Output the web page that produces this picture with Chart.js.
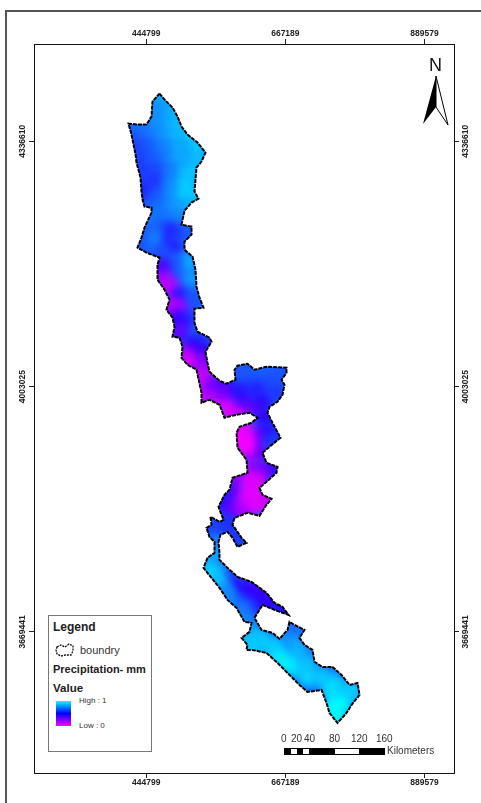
<!DOCTYPE html>
<html><head><meta charset="utf-8"><title>Precipitation map</title>
<script src="https://cdn.jsdelivr.net/npm/chart.js@4"></script>
<style>
html,body{margin:0;padding:0;background:#fff;overflow:hidden;width:481px;height:803px}
#wrap{position:relative;width:481px;height:803px;font-family:"Liberation Sans",Arial,sans-serif;color:#222}
canvas{position:absolute;left:0;top:0}
.abs{position:absolute;white-space:nowrap;line-height:1}
#legend{position:absolute;left:48px;top:615px;width:104px;height:137px;box-sizing:border-box;border:1px solid #777;background:#fff}
</style></head><body><div id="wrap">
<canvas id="c" width="481" height="803"></canvas>
<div class="abs" style="left:5px;top:10px;width:476px;height:793px;border-left:2px solid #555;border-top:2px solid #555;box-sizing:border-box"></div>
<div id="legend"></div>
<div class="abs" style="left:53px;top:621px;font-size:12px;font-weight:bold">Legend</div>
<svg class="abs" style="left:54px;top:642px" width="22" height="16"><path d="M3 5 L7 3 L11 5 L15 2 L19 4 L19 9 L17 13 L11 13 L7 14 L3 12 L2 8 Z" fill="none" stroke="#111" stroke-width="1.3" stroke-dasharray="2 1"/></svg>
<div class="abs" style="left:80px;top:645px;font-size:11px;color:#333">boundry</div>
<div class="abs" style="left:53px;top:664px;font-size:11px;font-weight:bold">Precipitation- mm</div>
<div class="abs" style="left:53px;top:683px;font-size:11.5px;font-weight:bold">Value</div>
<div class="abs" style="left:56px;top:701px;width:15px;height:25px;background:linear-gradient(#00ffff,#0000ff 50%,#ff00ff)"></div>
<div class="abs" style="left:79px;top:697px;font-size:8px;color:#333">High : 1</div>
<div class="abs" style="left:79px;top:722px;font-size:8px;color:#333">Low : 0</div>
<svg class="abs" style="left:284px;top:748px" width="102" height="8"><rect width="101" height="7" fill="#000"/><rect x="7" y="1" width="6" height="5" fill="#fff"/><rect x="19" y="1" width="6" height="5" fill="#fff"/><rect x="51" y="1" width="24" height="5" fill="#fff"/></svg>
<div class="abs" style="left:281px;top:734px;font-size:10px;color:#333">0</div>
<div class="abs" style="left:291px;top:734px;font-size:10px;color:#333">20</div>
<div class="abs" style="left:304px;top:734px;font-size:10px;color:#333">40</div>
<div class="abs" style="left:329px;top:734px;font-size:10px;color:#333">80</div>
<div class="abs" style="left:351px;top:734px;font-size:10px;color:#333">120</div>
<div class="abs" style="left:376px;top:734px;font-size:10px;color:#333">160</div>
<div class="abs" style="left:387px;top:746px;font-size:10px;color:#333">Kilometers</div>
<div class="abs" style="left:429px;top:56px;font-size:18px;color:#111">N</div>
<svg class="abs" style="left:420px;top:74px" width="32" height="54"><path d="M16 2 L3 50 L16 33 Z" fill="#000"/><path d="M16 2 L28 51 L16 33 Z" fill="#fff" stroke="#000" stroke-width="1"/></svg>
</div>
<script>
// Axis tick values (map grid, metres)
const eastingTicks = [444799, 667189, 889579];
const northingTicks = [4336610, 4003025, 3669441];
// Grid geometry of the sheet
const EAST_MIN = 265481, EAST_MAX = 936719, NORTH_MIN = 3477610, NORTH_MAX = 4468870;
const EAST_AT_COL0 = 210343, M_PER_COL = 1598.2, NORTH_AT_ROW0 = 4529421, M_PER_ROW = 1360.7;
const toE = c => EAST_AT_COL0 + c * M_PER_COL;
const toN = r => NORTH_AT_ROW0 - r * M_PER_ROW;

const boundaryCells = [
[160,94],[165,100],[173,108],[178,117],[182,127],[188,135],[198,143],[206,153],[202,162],[197,168],[196,180],[195,192],[199,199],[192,203],[185,211],[182,225],[192,227],[192,235],[185,242],[185,250],[193,257],[196,270],[197,287],[200,298],[204,308],[195,309],[195,323],[198,332],[210,338],[212,342],[206,352],[208,363],[210,372],[220,381],[227,384],[236,380],[235,370],[238,366],[248,364],[255,370],[267,367],[287,368],[287,373],[282,380],[285,385],[283,395],[278,402],[270,407],[268,413],[273,423],[281,438],[270,447],[263,453],[267,463],[278,467],[277,473],[267,482],[260,488],[263,495],[272,499],[267,505],[260,516],[248,513],[235,518],[233,525],[238,532],[242,538],[247,543],[238,547],[233,538],[228,532],[221,535],[219,542],[220,553],[220,560],[228,568],[238,577],[252,582],[267,593],[275,603],[283,607],[289,615],[275,610],[263,605],[255,618],[262,630],[273,633],[280,639],[288,630],[290,622],[295,625],[305,630],[300,638],[305,645],[313,650],[315,662],[323,667],[333,667],[342,675],[350,685],[358,683],[360,695],[352,705],[347,713],[338,723],[330,713],[327,703],[322,690],[308,692],[300,685],[288,673],[278,663],[267,653],[253,650],[247,650],[248,645],[242,638],[250,632],[252,623],[245,622],[237,608],[228,600],[220,588],[212,578],[204,568],[208,558],[215,553],[215,542],[210,537],[207,528],[212,525],[211,517],[220,522],[224,520],[219,507],[225,495],[230,490],[233,478],[248,473],[247,460],[238,448],[237,433],[240,427],[252,423],[258,418],[250,413],[237,415],[225,418],[220,405],[210,400],[202,403],[202,393],[197,370],[188,365],[182,358],[183,347],[180,338],[173,337],[175,327],[173,318],[167,310],[170,300],[165,290],[158,280],[158,265],[160,258],[147,253],[138,248],[142,238],[145,228],[152,213],[152,208],[145,207],[143,200],[142,192],[141,178],[137,163],[136,155],[132,135],[129,124],[137,125],[147,125],[152,117],[153,102],[160,94]
];

// Precipitation index sampled from the raster: [col, row, value 0..1]
const precipCells = [
[157,100,.82],[165,100,.85],[155,112,.8],[165,112,.78],[175,112,.86],[140,124,.76],[155,124,.78],[168,124,.82],[180,124,.88],
[135,136,.68],[148,136,.72],[160,136,.78],[175,136,.86],[190,136,.9],[138,148,.62],[150,148,.68],[165,148,.76],[180,148,.84],[198,148,.9],
[142,160,.62],[155,160,.68],[168,160,.74],[180,160,.84],[198,160,.88],[145,172,.62],[158,172,.64],[172,172,.74],[186,172,.84],[194,172,.88],
[146,184,.62],[157,184,.6],[172,184,.76],[186,184,.9],[146,196,.55],[157,196,.66],[172,196,.78],[186,196,.92],[195,196,.9],
[150,208,.68],[162,208,.72],[175,208,.8],[187,208,.84],[150,220,.76],[160,220,.72],[172,220,.74],[182,220,.78],
[148,232,.7],[160,232,.68],[172,232,.56],[186,232,.68],[147,243,.66],[158,240,.76],[173,238,.58],[180,246,.68],[172,250,.54],[163,253,.66],
[187,263,.86],[175,263,.68],[162,268,.42],[180,280,.66],[192,280,.8],[163,280,.22],[170,288,.12],[180,298,.52],[193,300,.66],[172,308,.12],[178,310,.18],[187,320,.6],[178,320,.47],[180,333,.36],[202,338,.62],
[193,347,.5],[187,355,.2],[205,353,.47],[200,360,.4],[190,362,.08],[205,367,.25],[203,377,.1],[202,393,0],[210,390,.12],[213,387,.3],[220,400,.1],[227,387,.47],[227,393,.3],[230,410,.03],[240,410,.1],[253,407,.3],[243,397,.42],[263,400,.47],[250,377,.68],[270,380,.66],[280,373,.66],[240,387,.54],[257,390,.56],[277,393,.6],[240,373,.66],
[265,417,.47],[275,433,.62],[267,432,.52],[255,437,.3],[252,453,.2],[258,450,.35],[275,442,.6],[253,470,.2],[272,468,.47],[262,473,.3],[238,480,.25],[235,493,.36],[225,502,.52],[232,510,.36],[245,503,.2],[245,512,.2],[228,525,.58],[215,532,.66],[210,527,.64],[238,538,.6],[223,530,.6],[217,543,.76],[215,557,.86],
[212,567,.88],[218,567,.74],[227,580,.6],[238,588,.5],[252,590,.45],[263,595,.42],[270,602,.48],[245,600,.52],[258,600,.48],[283,610,.52],[253,607,.55],[248,617,.7],[250,630,.82],[262,640,.92],[255,640,.88],[245,643,.86],[252,647,.9],[277,653,1],[275,647,.9],[292,637,.82],[295,628,.72],[298,650,.86],[295,667,.95],[285,663,.98],[308,663,.88],[308,677,.93],[322,677,.9],[335,683,.9],[348,693,.9],[332,690,.94],[342,703,1],[338,717,1],[332,707,1],[352,690,.9],
[212,572,.92],[220,590,.88],[218,580,.88],[230,605,.82],[228,593,.76],[242,607,.72],[240,620,.78],
[243,440,0],[240,435,0],[246,446,.02],[242,427,.06],[252,482,.06],[257,485,.08],[258,503,.03],[265,500,.1],[250,495,.06]
];

// Legend ramp: 1 cyan, 0.5 blue, 0 magenta
function rampColor(v){
  if(v >= .5){ const t=(v-.5)*2; return `rgb(${Math.round(40*(1-t))},${Math.round(255*t)},255)`; }
  const t=v*2; return `rgb(${Math.round(255-215*t)},0,255)`;
}
const boundaryData = boundaryCells.map(([c,r])=>({x:toE(c),y:toN(r)}));
const precipData = precipCells.map(([c,r])=>({x:toE(c),y:toN(r)}));
const precipColors = precipCells.map(p=>rampColor(p[2]));

const heatClip = {
  id:'heatClip',
  beforeDatasetDraw(chart,args){
    if(args.index!==0) return;
    const ctx=chart.ctx,x=chart.scales.x,y=chart.scales.y;
    ctx.save();
    ctx.beginPath();
    boundaryData.forEach((p,i)=>{const px=x.getPixelForValue(p.x),py=y.getPixelForValue(p.y); i?ctx.lineTo(px,py):ctx.moveTo(px,py);});
    ctx.closePath(); ctx.clip();
    ctx.fillStyle=rampColor(.7); ctx.fillRect(chart.chartArea.left,chart.chartArea.top,chart.chartArea.width,chart.chartArea.height);
    ctx.filter='blur(5px)';
  },
  afterDatasetDraw(chart,args){ if(args.index===0) chart.ctx.restore(); }
};
const makeTicks = vals => s => { s.ticks = vals.map(value=>({value})); };
const tickFont = {family:'"Liberation Sans",Arial,sans-serif',size:8.5,weight:'bold'};
const borderStyle = {display:true,color:'#111',width:1};
const gridStyle = {drawOnChartArea:false,drawTicks:true,tickLength:5,color:'#222'};
const xAxis = (position,h)=>({type:'linear',axis:'x',position,min:EAST_MIN,max:EAST_MAX,border:borderStyle,grid:gridStyle,
  afterBuildTicks:makeTicks(eastingTicks),afterFit:s=>{s.height=h;},
  ticks:{font:tickFont,color:'#222',padding:0,maxRotation:0,autoSkip:false,callback:v=>String(v)}});
const yAxis = (position,w)=>({type:'linear',axis:'y',position,min:NORTH_MIN,max:NORTH_MAX,border:borderStyle,grid:gridStyle,
  afterBuildTicks:makeTicks(northingTicks),afterFit:s=>{s.width=w;},
  ticks:{font:tickFont,color:'#222',padding:-10,minRotation:90,maxRotation:90,crossAlign:'center',autoSkip:false,callback:v=>String(v)}});

new Chart(document.getElementById('c'),{
  type:'scatter',
  plugins:[heatClip],
  data:{datasets:[
    {label:'Precipitation',data:precipData,pointStyle:'circle',pointRadius:10,pointBorderWidth:0,pointBackgroundColor:precipColors,showLine:false,order:2},
    {label:'boundry',data:boundaryData,showLine:true,tension:0,pointRadius:0,borderColor:'#000',borderWidth:2,borderDash:[4,1],fill:false,order:1}
  ]},
  options:{
    responsive:false,animation:false,devicePixelRatio:1,
    layout:{padding:0},
    plugins:{legend:{display:false},tooltip:{enabled:false},title:{display:false}},
    scales:{x:xAxis('bottom',30),xTop:xAxis('top',44),y:yAxis('left',34),yRight:yAxis('right',27)}
  }
});
</script></body></html>
